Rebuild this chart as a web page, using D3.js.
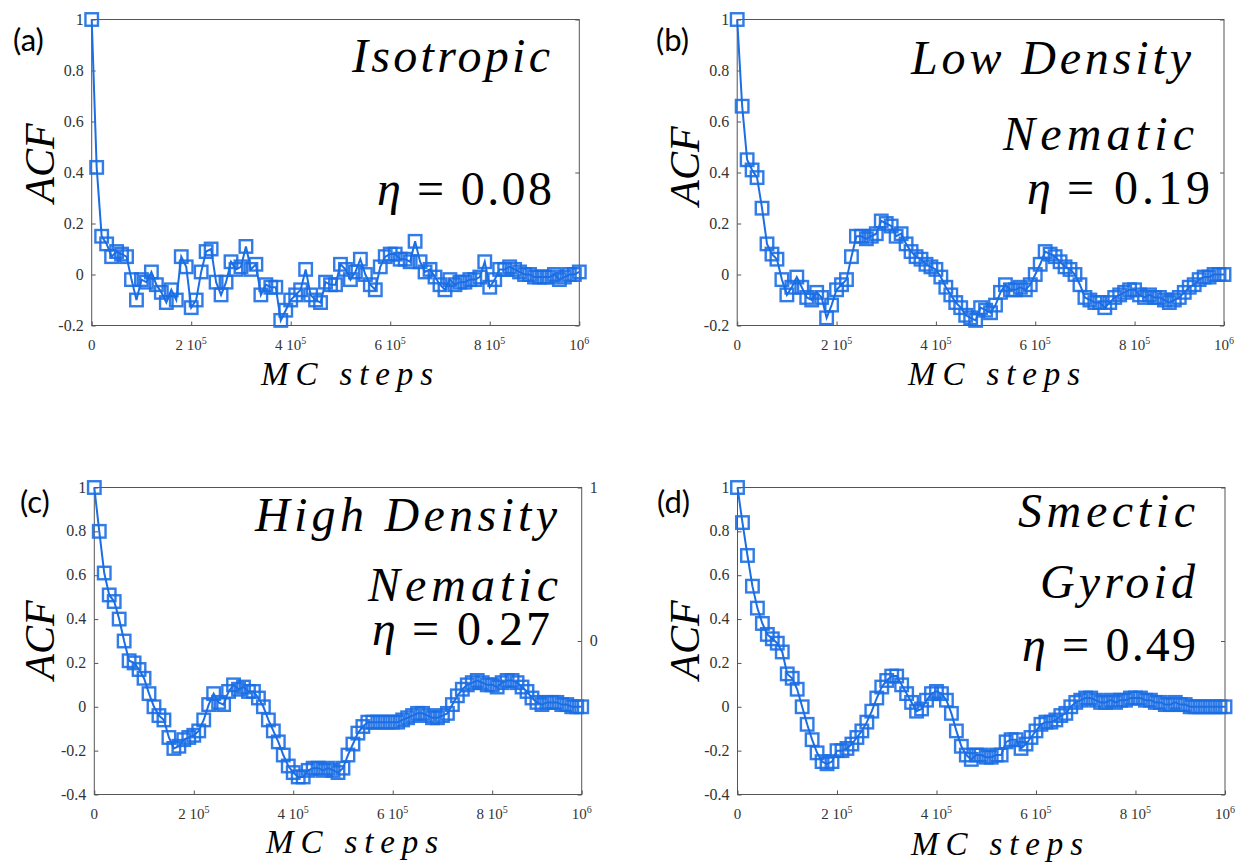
<!DOCTYPE html>
<html><head><meta charset="utf-8">
<script src="https://cdn.jsdelivr.net/npm/d3@7/dist/d3.min.js"></script>
<style>body{margin:0;background:#fff}svg{display:block}</style>
</head><body>
<svg id="chart" width="1256" height="867"></svg>
<script>
// ---------------- data ----------------
const lagStep = 1e4; // MC steps between successive ACF points
const acfIsotropic = [1.00,0.42,0.15,0.12,0.07,0.09,0.08,0.07,-0.02,-0.10,
-0.02,-0.03,0.01,-0.04,-0.07,-0.11,-0.06,-0.10,0.07,0.03,
-0.13,-0.10,0.01,0.09,0.10,-0.03,-0.08,-0.03,0.05,0.02,
0.03,0.11,0.02,0.04,-0.08,-0.04,-0.05,-0.05,-0.18,-0.14,
-0.10,-0.08,-0.06,0.02,-0.08,-0.10,-0.11,-0.03,-0.04,-0.04,
0.04,0.02,-0.02,0.01,0.06,0.00,-0.04,-0.06,0.03,0.07,
0.08,0.08,0.06,0.06,0.05,0.13,0.05,0.01,0.02,-0.01,
-0.04,-0.06,-0.02,-0.04,-0.03,-0.03,-0.02,-0.02,-0.01,0.05,
-0.05,-0.02,0.02,0.02,0.03,0.02,0.01,0.00,0.00,-0.01,
-0.01,-0.01,-0.01,0.00,-0.02,-0.01,0.00,0.00,0.01];
const acfLowNematic = [1.00,0.66,0.45,0.41,0.38,0.26,0.12,0.08,0.06,-0.02,
-0.08,-0.05,-0.01,-0.05,-0.09,-0.10,-0.07,-0.09,-0.17,-0.12,
-0.06,-0.04,-0.02,0.07,0.15,0.15,0.14,0.15,0.16,0.21,
0.20,0.19,0.15,0.16,0.12,0.09,0.07,0.06,0.04,0.03,
0.02,-0.01,-0.05,-0.08,-0.11,-0.13,-0.16,-0.17,-0.18,-0.13,
-0.14,-0.15,-0.12,-0.07,-0.04,-0.06,-0.06,-0.05,-0.06,-0.04,
0.00,0.04,0.09,0.08,0.07,0.05,0.03,0.02,0.00,-0.04,
-0.09,-0.10,-0.11,-0.11,-0.13,-0.11,-0.09,-0.08,-0.07,-0.06,
-0.06,-0.08,-0.09,-0.08,-0.09,-0.09,-0.10,-0.11,-0.10,-0.09,
-0.07,-0.05,-0.04,-0.02,-0.01,-0.01,0.00,0.00,0.00];
const acfHighNematic = [1.00,0.80,0.61,0.51,0.48,0.40,0.30,0.21,0.20,0.17,
0.13,0.06,0.00,-0.04,-0.06,-0.14,-0.19,-0.18,-0.15,-0.14,
-0.13,-0.11,-0.06,0.01,0.06,0.02,0.01,0.07,0.10,0.08,
0.09,0.07,0.07,0.04,0.00,-0.06,-0.11,-0.16,-0.22,-0.27,
-0.30,-0.32,-0.32,-0.29,-0.28,-0.28,-0.29,-0.28,-0.29,-0.30,
-0.28,-0.22,-0.17,-0.12,-0.09,-0.07,-0.07,-0.07,-0.07,-0.07,
-0.07,-0.07,-0.06,-0.05,-0.04,-0.03,-0.03,-0.04,-0.05,-0.05,
-0.04,-0.03,0.01,0.05,0.08,0.10,0.11,0.12,0.11,0.10,
0.10,0.09,0.11,0.12,0.12,0.11,0.09,0.07,0.04,0.02,
0.01,0.02,0.02,0.02,0.01,0.01,0.00,0.00,0.00];
const acfSmectic = [1.00,0.84,0.69,0.55,0.45,0.38,0.33,0.31,0.29,0.25,
0.15,0.13,0.08,0.00,-0.08,-0.15,-0.21,-0.25,-0.26,-0.25,
-0.20,-0.20,-0.19,-0.17,-0.14,-0.11,-0.07,-0.02,0.04,0.09,
0.12,0.14,0.14,0.10,0.06,0.02,-0.02,-0.01,0.03,0.06,
0.07,0.06,0.03,-0.03,-0.11,-0.18,-0.22,-0.24,-0.22,-0.22,
-0.23,-0.23,-0.22,-0.22,-0.16,-0.15,-0.15,-0.19,-0.17,-0.14,
-0.11,-0.08,-0.07,-0.07,-0.06,-0.04,-0.03,0.00,0.02,0.03,
0.04,0.04,0.03,0.02,0.02,0.03,0.02,0.03,0.03,0.04,
0.04,0.04,0.03,0.03,0.02,0.02,0.01,0.01,0.02,0.01,
0.01,0.00,0.00,0.00,0.00,0.00,0.00,0.00,0.00];

const xTickValues = [0, 2e5, 4e5, 6e5, 8e5];
const xTickBase   = ["0", "2 10", "4 10", "6 10", "8 10", "10"];
const xTickExp    = ["",  "5",    "5",    "5",    "5",    "6"];
const yTicksTop    = [-0.2, 0, 0.2, 0.4, 0.6, 0.8, 1];
const yTicksBottom = [-0.4, -0.2, 0, 0.2, 0.4, 0.6, 0.8, 1];
const rightTicks   = [-1, 0, 1];
const rightLabels  = ["", "0", "1"];
const panelLetters = ["(a)", "(b)", "(c)", "(d)"];
const phaseNames   = [["Isotropic"], ["Low Density", "Nematic"], ["High Density", "Nematic"], ["Smectic", "Gyroid"]];
const etaValues    = ["0.08", "0.19", "0.27", "0.49"];
const etaSymbol = "η";
const yLabel = "ACF";
const xLabel = "MC steps";

// ---------------- layout ----------------
const blue = "#1b6ee4";
const SERIF = '"Liberation Serif"';
const SANS = '"Lato"';
const panels = [
  {data: acfIsotropic,   yTicks: yTicksTop,    x0: 91.7, x1: 579.3, y0: 19.5,  y1: 325.5, ymin: -0.2,
   letter: [13, 51], ylab: [54, 163], xlab: [347, 385],
   names: [[550, 72, 198]], eta: [552, 205, 175], rightLab: false},
  {data: acfLowNematic,  yTicks: yTicksTop,    x0: 737.2, x1: 1224, y0: 19.5,  y1: 325.5, ymin: -0.2,
   letter: [656, 51], ylab: [699, 166], xlab: [994, 385],
   names: [[1191, 74, 280], [1194, 150, 191]], eta: [1210, 204, 183], rightLab: false},
  {data: acfHighNematic, yTicks: yTicksBottom, x0: 94.3, x1: 581.7, y0: 487.5, y1: 794.5, ymin: -0.4,
   letter: [20, 513], ylab: [54, 640], xlab: [352, 853],
   names: [[557, 531, 302], [558, 601, 190]], eta: [550, 645, 178], rightLab: true},
  {data: acfSmectic,     yTicks: yTicksBottom, x0: 737.5, x1: 1225, y0: 487.5, y1: 794.5, ymin: -0.4,
   letter: [657, 513], ylab: [699, 640], xlab: [997, 855],
   names: [[1195, 527, 177], [1195, 598, 155]], eta: [1196, 661, 174], rightLab: false}
];

const svg = d3.select("#chart");

function txt(parent, x, y, fam, size, italic, content) {
  const t = parent.append("text").attr("x", x).attr("y", y)
    .style("font-family", fam).style("font-size", size + "px");
  if (italic) t.style("font-style", "italic");
  if (content !== undefined) t.text(content);
  return t;
}

panels.forEach((p, pi) => {
  const g = svg.append("g");
  const lastLag = (p.data.length - 1) * lagStep;
  const x = d3.scaleLinear().domain([0, lastLag]).range([p.x0, p.x1]);
  const y = d3.scaleLinear().domain([p.ymin, 1]).range([p.y1, p.y0]);
  const yR = d3.scaleLinear().domain([-1, 1]).range([p.y1, p.y0]);

  g.append("rect").attr("x", p.x0).attr("y", p.y0)
    .attr("width", p.x1 - p.x0).attr("height", p.y1 - p.y0)
    .attr("fill", "none").attr("stroke", "#555").attr("stroke-width", 1);

  const ya = g.append("g").attr("transform", `translate(${p.x0},0)`)
    .call(d3.axisLeft(y).tickValues(p.yTicks).tickSize(-4).tickFormat(""));
  ya.select(".domain").remove();
  ya.selectAll("line").attr("stroke", "#555");
  p.yTicks.forEach(v => txt(svg, p.x0 - 8, y(v) + 5, SERIF, 16, false, String(v))
    .attr("text-anchor", "end").attr("fill", "#333"));

  const ra = g.append("g").attr("transform", `translate(${p.x1},0)`)
    .call(d3.axisRight(yR).tickValues(rightTicks).tickSize(-4).tickFormat(""));
  ra.select(".domain").remove();
  ra.selectAll("line").attr("stroke", "#555");
  if (p.rightLab) rightTicks.forEach((v, i) => {
    if (rightLabels[i]) txt(svg, p.x1 + 8, yR(v) + 5, SERIF, 16, false, rightLabels[i]).attr("fill", "#333");
  });

  const xv = xTickValues.concat([lastLag]);
  const xa = g.append("g").attr("transform", `translate(0,${p.y1})`)
    .call(d3.axisBottom(x).tickValues(xv).tickSize(-4).tickFormat(""));
  xa.select(".domain").remove();
  xa.selectAll("line").attr("stroke", "#555");
  xv.forEach((v, i) => {
    const t = txt(svg, x(v), p.y1 + 24, SERIF, 15, false).attr("text-anchor", "middle").attr("fill", "#333");
    t.append("tspan").text(xTickBase[i]);
    if (xTickExp[i]) t.append("tspan").attr("dy", -6).style("font-size", "10px").text(xTickExp[i]);
  });

  const pts = p.data.map((v, i) => [i * lagStep, v]);
  g.append("path").datum(pts)
    .attr("d", d3.line().x(d => x(d[0])).y(d => y(d[1])))
    .attr("fill", "none").attr("stroke", blue).attr("stroke-width", 2);
  const s = 12.5;
  g.selectAll("rect.mk").data(pts).join("rect").attr("class", "mk")
    .attr("x", d => x(d[0]) - s / 2).attr("y", d => y(d[1]) - s / 2)
    .attr("width", s).attr("height", s)
    .attr("fill", "none").attr("stroke", blue).attr("stroke-width", 2.4).attr("stroke-opacity", 0.9);

  txt(svg, p.letter[0], p.letter[1], SANS, 31, false, panelLetters[pi]);

  svg.append("text").attr("transform", `translate(${p.ylab[0]},${p.ylab[1]}) rotate(-90)`)
    .attr("text-anchor", "middle").style("font-family", SERIF).style("font-size", "42px")
    .style("font-style", "italic").text(yLabel);
  txt(svg, p.xlab[0] - 86, p.xlab[1], SERIF, 33, true)
    .attr("textLength", 172).attr("lengthAdjust", "spacing").text(xLabel);

  phaseNames[pi].forEach((nm, j) => {
    const [rx, by, w] = p.names[j];
    txt(svg, rx - w, by, SERIF, 48, true)
      .attr("textLength", w).attr("lengthAdjust", "spacing").text(nm);
  });
  const [ex, ey, ew] = p.eta;
  txt(svg, ex - ew, ey, SERIF, 48, true, etaSymbol);
  txt(svg, ex, ey, SERIF, 48, false, "= " + etaValues[pi]).attr("text-anchor", "end")
    .attr("textLength", ew - 40).attr("lengthAdjust", "spacing");
});
</script>
</body></html>
